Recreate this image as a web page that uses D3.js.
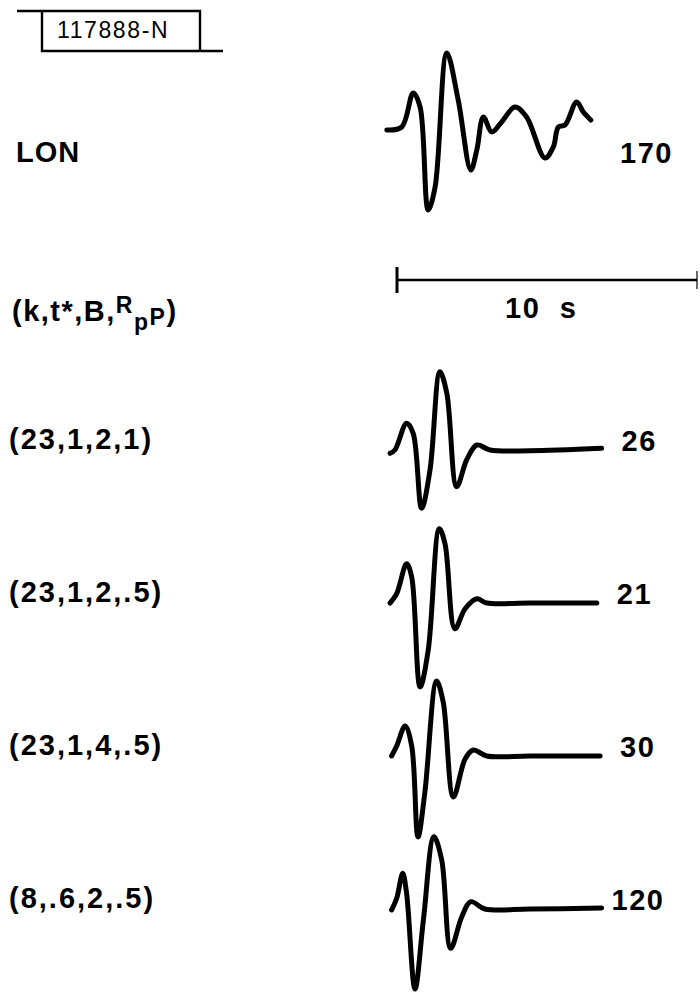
<!DOCTYPE html>
<html>
<head>
<meta charset="utf-8">
<script src="https://cdn.jsdelivr.net/npm/d3@7"></script>
<style>
  body { margin: 0; background: #fff; }
  text { font-family: "Liberation Sans", Arial, sans-serif; font-weight: bold; fill: #000; }
</style>
</head>
<body>
<div id="chart"></div>
<script>
// figure tag
var figureTag = "117888-N";

// observed record (time in s from start of scale bar, amplitude in arbitrary units)
var stationName = "LON";
var stationAmp = "170";
var lonTrace = [
  [-0.34, -0.3], [0.16, 0], [0.54, 3.4], [0.77, 2.0], [1.04, -8.3], [1.27, -6.0],
  [1.66, 7.4], [2.04, 2.7], [2.46, -4.3], [2.66, -2.3], [2.88, 1.0], [3.16, -0.5],
  [3.49, 0.5], [3.93, 2.0], [4.32, 1.0], [4.93, -3.1], [5.21, -2.0], [5.38, 0],
  [5.6, 0.2], [5.99, 2.5], [6.21, 1.5], [6.46, 0.7]
];

// synthetic seismograms
var modelLabels = ["(23,1,2,1)", "(23,1,2,.5)", "(23,1,4,.5)", "(8,.6,2,.5)"];
var modelAmps = ["26", "21", "30", "120"];
var modelTraces = [
  [[-0.23, -0.33], [-0.07, 0], [0.32, 2.67], [0.54, 1.67], [0.82, -5.83], [1.1, -2.0],
   [1.43, 7.83], [1.66, 5.67], [1.99, -3.67], [2.32, -1.0], [2.66, 0.5], [3.1, 0],
   [4.43, -0.07], [6.82, 0.17]],
  [[-0.23, 0], [-0.01, 0.93], [0.32, 3.93], [0.49, 2.6], [0.77, -8.4], [1.04, -4.73],
   [1.41, 7.43], [1.6, 5.93], [1.93, -2.57], [2.27, -0.57], [2.66, 0.43], [2.99, 0],
   [4.43, 0], [6.66, 0]],
  [[-0.18, 0], [-0.01, 1.0], [0.27, 3.0], [0.49, 1.0], [0.7, -8.1], [0.93, -3.6],
   [1.32, 7.5], [1.54, 5.4], [1.88, -4.1], [2.27, -0.3], [2.54, 0.6], [2.99, 0],
   [4.43, 0], [6.77, 0]],
  [[-0.18, -0.1], [-0.01, 1.07], [0.19, 3.57], [0.32, 1.57], [0.6, -8.0], [0.88, -1.1],
   [1.23, 7.23], [1.49, 4.9], [1.79, -3.93], [2.16, -0.77], [2.46, 0.73], [2.93, 0],
   [4.43, 0], [6.82, 0.1]]
];

var scaleBarSeconds = 10;

var width = 700, height = 997;
var svg = d3.select("#chart").append("svg")
  .attr("width", width)
  .attr("height", height);

var x = d3.scaleLinear().domain([0, scaleBarSeconds]).range([397, 697]);
var amp = d3.scaleLinear().domain([0, 1]).range([0, -10]);
var rowY = d3.scalePoint().domain(modelLabels).range([450, 909]);
var lonY = 127;

function traceLine(base) {
  return d3.line()
    .x(function (d) { return x(d[0]); })
    .y(function (d) { return base + amp(d[1]); })
    .curve(d3.curveCatmullRom.alpha(0.5));
}

function drawTrace(data, base) {
  svg.append("path")
    .datum(data)
    .attr("d", traceLine(base))
    .attr("fill", "none")
    .attr("stroke", "#000")
    .attr("stroke-width", 5)
    .attr("stroke-linejoin", "round")
    .attr("stroke-linecap", "round");
}

// tag box at top left
var tag = svg.append("g");
tag.append("path")
  .attr("d", "M17,11 H200 V51 H223 M42,11 V51 H200")
  .attr("fill", "none")
  .attr("stroke", "#000")
  .attr("stroke-width", 2.4);
tag.append("text")
  .attr("x", 57).attr("y", 38)
  .style("font-weight", "normal")
  .style("font-size", "23px")
  .style("letter-spacing", "1.6px")
  .text(figureTag);

// observed station
svg.append("text")
  .attr("x", 16).attr("y", 162)
  .style("font-size", "29px")
  .style("letter-spacing", "1px")
  .text(stationName);
drawTrace(lonTrace, lonY);
svg.append("text")
  .attr("x", 620).attr("y", 163)
  .style("font-size", "29px")
  .style("letter-spacing", "1.5px")
  .text(stationAmp);

// time scale bar
var bar = svg.append("g");
bar.append("line")
  .attr("x1", x(0)).attr("x2", x(scaleBarSeconds))
  .attr("y1", 280).attr("y2", 280)
  .attr("stroke", "#000").attr("stroke-width", 2.6);
bar.append("line")
  .attr("x1", x(0)).attr("x2", x(0))
  .attr("y1", 267).attr("y2", 293)
  .attr("stroke", "#000").attr("stroke-width", 3);
bar.append("line")
  .attr("x1", x(scaleBarSeconds)).attr("x2", x(scaleBarSeconds))
  .attr("y1", 271).attr("y2", 289)
  .attr("stroke", "#000").attr("stroke-width", 1.2);
bar.append("text")
  .attr("x", 505).attr("y", 318)
  .style("font-size", "29px")
  .style("letter-spacing", "1.5px")
  .style("word-spacing", "10px")
  .text(scaleBarSeconds + " s");

// parameter heading (k,t*,B,RpP)
var head = svg.append("text")
  .attr("x", 12).attr("y", 321)
  .style("font-size", "29px")
  .style("letter-spacing", "1.5px");
head.append("tspan").text("(k,t*,B,");
head.append("tspan").attr("dy", -8).style("font-size", "23px").text("R");
head.append("tspan").attr("dy", 17).style("font-size", "23px").text("p");
head.append("tspan").attr("dy", -5).style("font-size", "23px").text("P");
head.append("tspan").attr("dy", -4).text(")");

// model rows
modelLabels.forEach(function (lab, i) {
  var base = rowY(lab);
  svg.append("text")
    .attr("x", 9).attr("y", base - 1)
    .style("font-size", "29px")
    .style("letter-spacing", "2px")
    .text(lab);
  drawTrace(modelTraces[i], base);
  var last = modelTraces[i][modelTraces[i].length - 1];
  svg.append("text")
    .attr("x", x(last[0]) + (modelAmps[i].length > 2 ? 10 : 20))
    .attr("y", base + 1)
    .style("font-size", "29px")
    .style("letter-spacing", "1.5px")
    .text(modelAmps[i]);
});
</script>
</body>
</html>
